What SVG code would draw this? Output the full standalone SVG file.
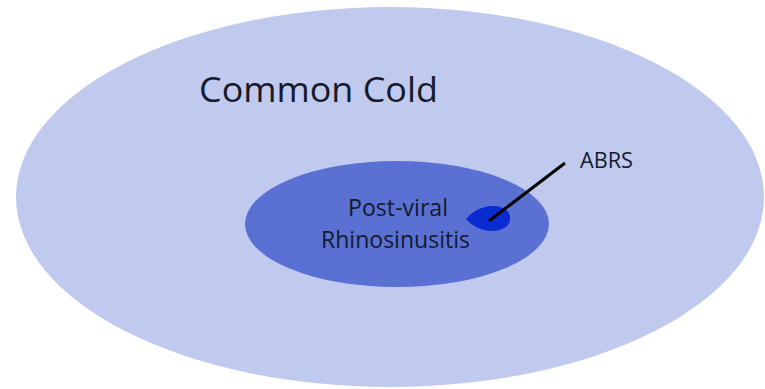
<svg xmlns="http://www.w3.org/2000/svg" width="765" height="389" viewBox="0 0 765 389">
<style>
text{font-family:"Open Sans","Liberation Sans",sans-serif;fill:#151a2c}
</style>
<rect width="765" height="389" fill="#ffffff"/>
<g id="common-cold">
<ellipse cx="390" cy="197" rx="374" ry="190" fill="#c0c9ee"/>
<text x="199" y="102" font-size="35" textLength="239" lengthAdjust="spacingAndGlyphs">Common Cold</text>
</g>
<g id="post-viral">
<ellipse cx="397" cy="224" rx="152" ry="63" fill="#5a71d3"/>
<text x="348" y="216" font-size="23" textLength="100" lengthAdjust="spacingAndGlyphs">Post-viral</text>
<text x="321" y="248" font-size="23" textLength="149" lengthAdjust="spacingAndGlyphs">Rhinosinusitis</text>
</g>
<g id="abrs">
<path d="M466,219 C472,211 484,205 495,206 C505,207 511,212 510,220 C509,228 500,231 490,231 C480,230 472,226 466,219 Z" fill="#0a2bd0"/>
<text x="580" y="168" font-size="21" textLength="53" lengthAdjust="spacingAndGlyphs">ABRS</text>
</g>
<g id="connectors">
<line x1="489" y1="221" x2="565" y2="163" stroke="#000" stroke-width="3"/>
</g>
</svg>
